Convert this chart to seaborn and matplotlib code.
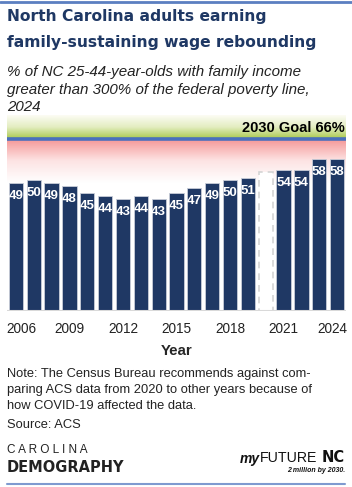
import numpy as np
import pandas as pd
import seaborn as sns
import matplotlib.pyplot as plt
from matplotlib.colors import LinearSegmentedColormap
from matplotlib.transforms import ScaledTranslation

years = list(range(2006, 2025))
values = [49, 50, 49, 48, 45, 44, 43, 44, 43, 45, 47, 49, 50, 51, 53, 54, 54, 58, 58]
labels = ['49', '50', '49', '48', '45', '44', '43', '44', '43', '45', '47', '49',
          '50', '51', '', '54', '54', '58', '58']
tick_years = ['2006', '2009', '2012', '2015', '2018', '2021', '2024']
goal = 66

navy = '#1f3864'
df = pd.DataFrame({'year': [str(y) for y in years], 'pct': values})

sns.set_style('white')
plt.rcParams['font.family'] = ['Liberation Sans', 'DejaVu Sans']

fig = plt.figure(figsize=(3.52, 4.87), dpi=100)
W, H = 352, 487


def box(x0, y0, x1, y1):
    return [x0 / W, 1 - y1 / H, (x1 - x0) / W, (y1 - y0) / H]


ax = fig.add_axes(box(7, 115, 346, 311))
sns.barplot(data=df, x='year', y='pct', color=navy, width=0.8, saturation=1,
            edgecolor='#c8cdd8', linewidth=0.6, ax=ax, zorder=3)
ax.set_ylim(0, 75)
ax.set_xlim(-0.5, len(years) - 0.5)

# 2020 bar: dashed outline only
gap = ax.patches[years.index(2020)]
gap.set_facecolor('white')
gap.set_edgecolor('#d4d4d4')
gap.set_linestyle((0, (4, 3)))
gap.set_linewidth(1.2)

# gradients for goal band (strong colour next to the goal line)
green = LinearSegmentedColormap.from_list('g', ['#a9c84c', '#e3edc0', '#fcfcf4'])
red = LinearSegmentedColormap.from_list('r', ['#ffffff', '#fde3e3', '#f49494'])
grad = np.linspace(0, 1, 100).reshape(-1, 1)
ax.imshow(grad, cmap=green, extent=(-0.5, len(years) - 0.5, goal, 75), origin='lower',
          aspect='auto', zorder=0)
ax.imshow(grad, cmap=red, extent=(-0.5, len(years) - 0.5, 49, goal), origin='lower',
          aspect='auto', zorder=0)
ax.axhline(goal, color='#4a70bd', lw=2.6, zorder=2)
ax.text(len(years) - 0.55, goal + 1.2, f'2030 Goal {goal}%', ha='right', va='bottom',
        fontsize=10.5, fontweight='bold', color='black', zorder=4)

for i, (v, lab) in enumerate(zip(values, labels)):
    if lab:
        ax.annotate(lab, (i, v), xytext=(0, -5), textcoords='offset points',
                    ha='center', va='top', color='white', fontsize=9.5,
                    fontweight='bold', zorder=5)

ax.axhline(0, color='#d9d9d9', lw=1.5, zorder=4)
ticks = [years.index(int(t)) for t in tick_years]
ax.set_xticks(ticks)
ax.set_xticklabels(tick_years, fontsize=9.8, color='#222222')
ax.tick_params(axis='x', length=0, pad=8)
tls = ax.get_xticklabels()
tls[0].set_transform(tls[0].get_transform() + ScaledTranslation(0.055, 0, fig.dpi_scale_trans))
tls[-1].set_transform(tls[-1].get_transform() + ScaledTranslation(-0.05, 0, fig.dpi_scale_trans))
ax.set_yticks([])
ax.set_xlabel('Year', fontsize=10.8, fontweight='bold', labelpad=6)
ax.set_ylabel('')
sns.despine(ax=ax, left=True, bottom=True)

# title and subtitle
fig.add_artist(plt.Line2D([0, 1], [1 - 1.5 / H, 1 - 1.5 / H], color='#5b7fc1', lw=2))
fig.text(7 / W, 1 - 17 / H, 'North Carolina adults earning', fontsize=11.2,
         fontweight='bold', color=navy, va='center', family='DejaVu Sans')
fig.text(7 / W, 1 - 43 / H, 'family-sustaining wage rebounding', fontsize=11.2,
         fontweight='bold', color=navy, va='center', family='DejaVu Sans')
sub = '% of NC 25-44-year-olds with family income\ngreater than 300% of the federal poverty line,\n2024'
fig.text(7 / W, 1 - 65 / H, sub, fontsize=10.9, style='italic', color='#222222',
         va='top', linespacing=1.33)

note = ('Note: The Census Bureau recommends against com-\n'
        'paring ACS data from 2020 to other years because of\n'
        'how COVID-19 affected the data.')
fig.text(7 / W, 1 - 368 / H, note, fontsize=9.3, color='#222222', va='top',
         linespacing=1.45)
fig.text(7 / W, 1 - 425 / H, 'Source: ACS', fontsize=9.3, color='#222222', va='center')

# logos as text
fig.text(7 / W, 1 - 450 / H, 'C A R O L I N A', fontsize=8.5, color='#222222',
         va='center', fontweight='light')
fig.text(7 / W, 1 - 468 / H, 'DEMOGRAPHY', fontsize=10.5, color='#222222',
         va='center', fontweight='bold', family='DejaVu Sans')
fig.text(240 / W, 1 - 459 / H, 'my', fontsize=10, color='#111111', va='center',
         style='italic', fontweight='bold')
fig.text(260 / W, 1 - 458 / H, 'FUTURE', fontsize=10.2, color='#111111', va='center')
fig.text(345 / W, 1 - 458 / H, 'NC', fontsize=10.5, color='#111111', va='center',
         ha='right', fontweight='bold', family='DejaVu Sans')
fig.text(345 / W, 1 - 471 / H, '2 million by 2030.', fontsize=5, color='#111111',
         va='center', ha='right', style='italic', fontweight='bold')
fig.add_artist(plt.Line2D([7 / W, 345 / W], [1 - 484 / H, 1 - 484 / H],
                          color='#7f9ad0', lw=1.5))

fig.savefig('out.png', dpi=100, facecolor='white')
